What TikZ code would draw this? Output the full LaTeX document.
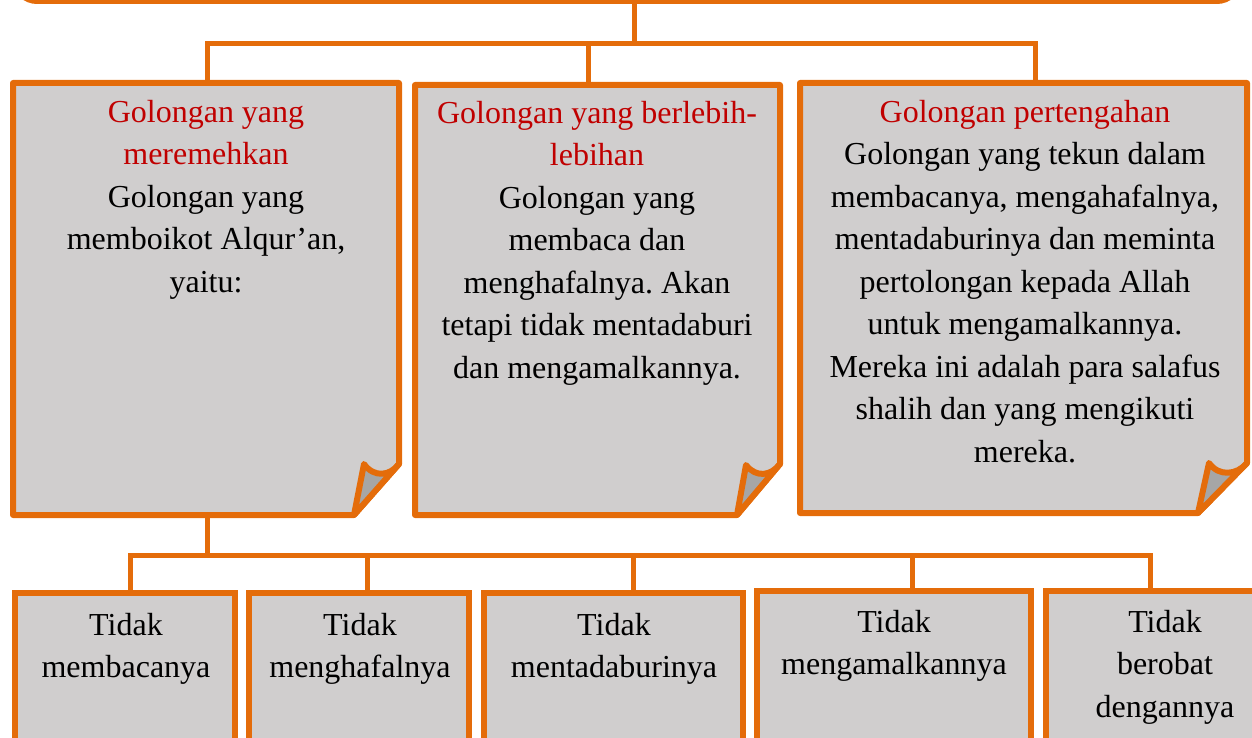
\documentclass[tikz,border=0pt]{standalone}
\usepackage{fontspec}
\setmainfont{Liberation Serif}
\frenchspacing
\definecolor{ornge}{HTML}{E46C0A}
\definecolor{boxgray}{HTML}{D0CECE}
\definecolor{flapgray}{HTML}{A6A6A6}
\definecolor{dred}{HTML}{C00000}
\begin{document}
\begin{tikzpicture}[x=1pt,y=-1pt,
  edge/.style={draw=ornge,line width=5pt},
  pagebox/.style={draw=ornge,fill=boxgray,line width=6pt,line join=round},
  flap/.style={draw=ornge,fill=flapgray,line width=6pt,line join=round},
  leafbox/.style={draw=ornge,fill=boxgray,line width=6pt,rectangle,inner sep=0pt,anchor=north west},
  txt/.style={font=\fontsize{32}{42.5}\selectfont\frenchspacing,align=center,inner sep=0pt,anchor=north}]
\useasboundingbox (0,0) rectangle (1252,738);
\clip (0,0) rectangle (1252,738);
% top box
\draw[pagebox,rounded corners=22pt] (15,-60) rectangle (1239,1);
\coordinate (top) at (634,4);
\coordinate (hub1) at (634,44);
% folded pages
\draw[pagebox] (13,83) -- (399,83) -- (399,464) -- (354,515) -- (13,515) -- cycle;
\draw[flap] (354,515) -- (364,464) .. controls (374,478) and (390,476) .. (399,464) -- cycle;
\draw[pagebox] (415,85) -- (780,85) -- (780,464) -- (737,515) -- (415,515) -- cycle;
\draw[flap] (737,515) -- (746,465) .. controls (756,478) and (771,476) .. (780,464) -- cycle;
\draw[pagebox] (800,83) -- (1247,83) -- (1247,463) -- (1198,513) -- (800,513) -- cycle;
\draw[flap] (1198,513) -- (1209,463) .. controls (1219,477) and (1237,475) .. (1247,463) -- cycle;
\coordinate (p1t) at (207,80);
\coordinate (p2t) at (588,82);
\coordinate (p3t) at (1035,80);
\coordinate (p1b) at (207,518);
% connectors top
\draw[edge] (top) -- (hub1);
\draw[edge] (p1t) |- (hub1) -| (p3t);
\draw[edge] (p2t) -- (p2t |- hub1);
% page texts
\node[txt] (t1) at (206,100) {\textcolor{dred}{Golongan yang}\\\textcolor{dred}{meremehkan}\\Golongan yang\\memboikot Alqur’an,\\yaitu:};
\node[txt] (t2) at (597,101) {\textcolor{dred}{Golongan yang berlebih-}\\\textcolor{dred}{lebihan}\\Golongan yang\\membaca dan\\menghafalnya. Akan\\tetapi tidak mentadaburi\\dan mengamalkannya.};
\node[txt] (t3) at (1025,100) {\textcolor{dred}{Golongan pertengahan}\\Golongan yang tekun dalam\\membacanya, mengahafalnya,\\mentadaburinya dan meminta\\pertolongan kepada Allah\\untuk mengamalkannya.\\Mereka ini adalah para salafus\\shalih dan yang mengikuti\\mereka.};
% leaf boxes
\node[leafbox,minimum width=220pt,minimum height=180pt] (c1) at (12,590) {};
\node[leafbox,minimum width=220pt,minimum height=180pt] (c2) at (246,590) {};
\node[leafbox,minimum width=259pt,minimum height=180pt] (c3) at (481,590) {};
\node[leafbox,minimum width=274pt,minimum height=180pt] (c4) at (754,588) {};
\node[leafbox,minimum width=220pt,minimum height=180pt] (c5) at (1043,588) {};
\coordinate (hub2) at (207,555);
\draw[edge] (p1b) -- (hub2);
\draw[edge] (c1.north -| 130,0) |- (hub2);
\draw[edge] (hub2) -| (c5.north -| 1150,0);
\draw[edge] (c2.north -| 367,0) -- (367,555);
\draw[edge] (c3.north -| 633,0) -- (633,555);
\draw[edge] (c4.north -| 912,0) -- (912,555);
% leaf texts
\node[txt] (l1) at (126,613) {Tidak\\membacanya};
\node[txt] (l2) at (360,613) {Tidak\\menghafalnya};
\node[txt] (l3) at (614,613) {Tidak\\mentadaburinya};
\node[txt] (l4) at (894,610) {Tidak\\mengamalkannya};
\node[txt] (l5) at (1165,610) {Tidak\\berobat\\dengannya};
\end{tikzpicture}
\end{document}
